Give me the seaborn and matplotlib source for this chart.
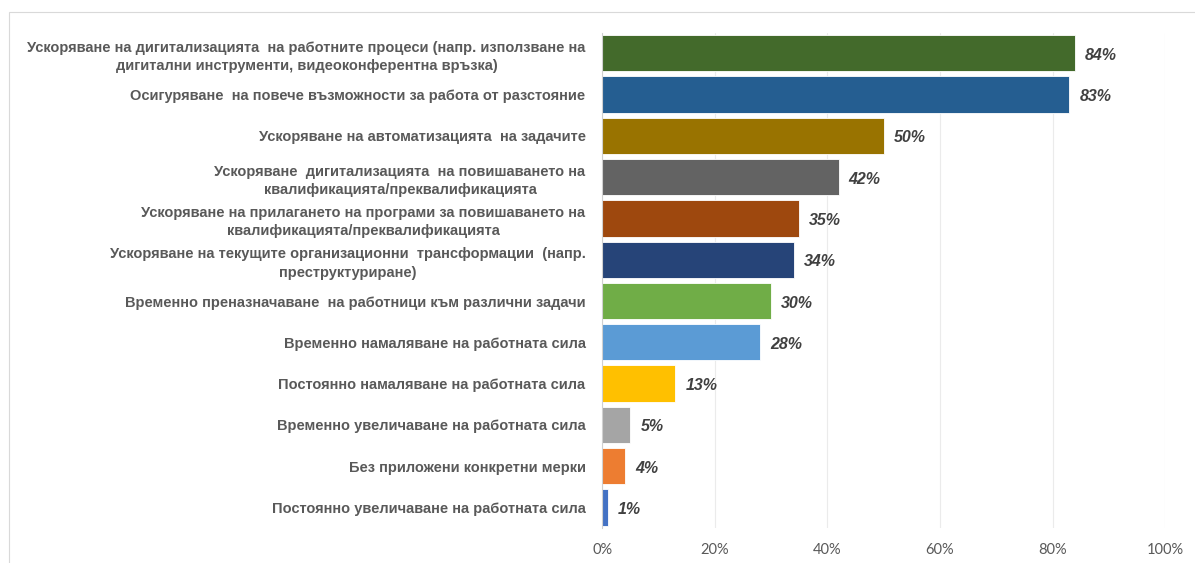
import matplotlib
matplotlib.use("Agg")
import matplotlib.pyplot as plt
import seaborn as sns
import pandas as pd
from matplotlib.patches import Rectangle
from matplotlib.ticker import FuncFormatter

categories = [
    "Ускоряване на дигитализацията  на работните процеси (напр. използване на\nдигитални инструменти, видеоконферентна връзка)",
    "Осигуряване  на повече възможности за работа от разстояние",
    "Ускоряване на автоматизацията  на задачите",
    "Ускоряване  дигитализацията  на повишаването на\nквалификацията/преквалификацията",
    "Ускоряване на прилагането на програми за повишаването на\nквалификацията/преквалификацията",
    "Ускоряване на текущите организационни  трансформации  (напр.\nпреструктуриране)",
    "Временно преназначаване  на работници към различни задачи",
    "Временно намаляване на работната сила",
    "Постоянно намаляване на работната сила",
    "Временно увеличаване на работната сила",
    "Без приложени конкретни мерки",
    "Постоянно увеличаване на работната сила",
]
values = [84, 83, 50, 42, 35, 34, 30, 28, 13, 5, 4, 1]
bar_colors = [
    "#436A2B", "#255E91", "#997300", "#636363", "#9E480E", "#264478",
    "#70AD47", "#5B9BD5", "#FFC000", "#A5A5A5", "#ED7D31", "#4472C4",
]
x_ticks = [0, 20, 40, 60, 80, 100]

sns.set_theme(style="white")
plt.rcParams["font.family"] = ["Liberation Sans Narrow", "Liberation Sans", "DejaVu Sans"]

df = pd.DataFrame({"category": categories, "value": values})

fig = plt.figure(figsize=(11.95, 5.63), dpi=100)
ax = fig.add_axes([0.504, 0.062, 0.471, 0.880])

sns.barplot(
    data=df, x="value", y="category", hue="category",
    palette=bar_colors, legend=False, width=0.88, saturation=1,
    edgecolor="white", linewidth=0.6, ax=ax, orient="h",
)

ax.set_xlim(0, 100)
ax.set_xticks(x_ticks)
ax.xaxis.set_major_formatter(FuncFormatter(lambda v, _: f"{int(v)}%"))
ax.grid(axis="x", color="#EBEBEB", linewidth=0.8)
ax.set_axisbelow(True)
ax.set_xlabel("")
ax.set_ylabel("")

for side in ["top", "right", "bottom"]:
    ax.spines[side].set_visible(False)
ax.spines["left"].set_color("#D0D0D0")
ax.spines["left"].set_linewidth(0.8)

ax.tick_params(axis="x", length=0, pad=11, labelsize=10.5, labelcolor="#595959")
ax.tick_params(axis="y", length=0, pad=12, labelsize=10.5, labelcolor="#595959")
for lbl in ax.get_xticklabels():
    lbl.set_family(["Lato", "DejaVu Sans"])
    lbl.set_fontsize(10.5)
for lbl in ax.get_yticklabels():
    lbl.set_fontweight("bold")
    lbl.set_multialignment("center")
    lbl.set_linespacing(1.4)

for i, v in enumerate(values):
    ax.annotate(
        f"{v}%", xy=(v, i), xytext=(10, -2), textcoords="offset pixels",
        ha="left", va="center", fontsize=11.5, fontweight="bold",
        fontstyle="italic", color="#404040",
        family=["Liberation Sans", "DejaVu Sans"],
    )

# light frame around the chart area
fig.patches.append(Rectangle((9 / 1195, -0.05), 1.2, 1 - 12 / 563 + 0.05,
                             transform=fig.transFigure, fill=False,
                             edgecolor="#D9D9D9", linewidth=0.8))

fig.savefig("out.png", dpi=100)
